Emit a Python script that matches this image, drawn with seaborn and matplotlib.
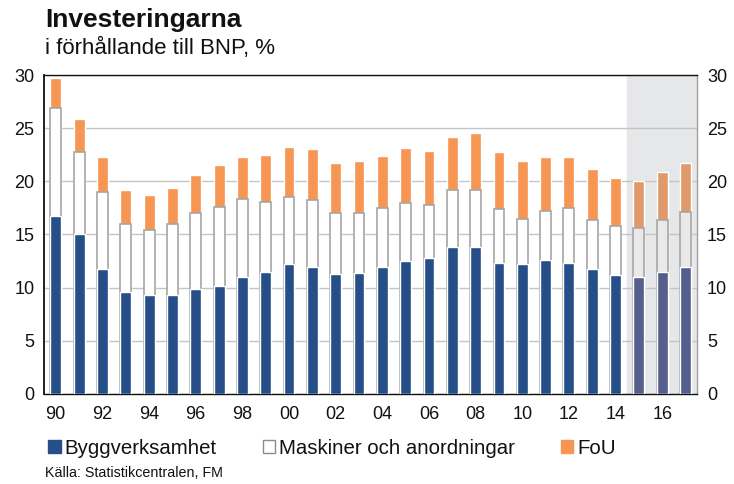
import numpy as np
import pandas as pd
import seaborn as sns
import matplotlib.pyplot as plt
from matplotlib.patches import Patch

# === Data (% of GDP) ===
years = list(range(1990, 2018))
bygg = [16.7, 15.0, 11.8, 9.6, 9.3, 9.3, 9.9, 10.2, 11.0, 11.5, 12.2, 11.9, 11.3, 11.4,
        11.9, 12.5, 12.8, 13.8, 13.8, 12.3, 12.2, 12.6, 12.3, 11.8, 11.2, 11.0, 11.5, 11.9]
maskiner = [10.2, 7.8, 7.2, 6.4, 6.1, 6.7, 7.1, 7.4, 7.3, 6.6, 6.3, 6.3, 5.7, 5.6,
            5.6, 5.5, 5.0, 5.4, 5.4, 5.1, 4.3, 4.6, 5.2, 4.6, 4.6, 4.6, 4.9, 5.2]
fou = [2.8, 3.1, 3.3, 3.2, 3.3, 3.4, 3.6, 3.9, 4.0, 4.4, 4.7, 4.8, 4.7, 4.9,
       4.9, 5.1, 5.1, 5.0, 5.3, 5.4, 5.4, 5.1, 4.8, 4.8, 4.5, 4.4, 4.5, 4.6]
forecast_from = 2015
labels = ["Byggverksamhet", "Maskiner och anordningar", "FoU"]

df = pd.DataFrame({"year": [str(y) for y in years], "bygg": bygg,
                   "maskiner": maskiner, "fou": fou})
df["mid"] = df["bygg"] + df["maskiner"]
df["total"] = df["mid"] + df["fou"]

# === Style ===
sns.set_theme(style="white")
plt.rcParams["font.family"] = ["Liberation Sans", "DejaVu Sans"]
plt.rcParams["text.color"] = "#111111"

blue, orange = "#264f8a", "#f79552"
blue_f, orange_f, white_f = "#545f8c", "#df996a", "#e9e9ea"

fig = plt.figure(figsize=(7.34, 4.84), dpi=100)
ax = fig.add_axes([0.06, 0.186, 0.89, 0.659])

# stacked bars: draw cumulative totals back to front
sns.barplot(data=df, x="year", y="total", color=orange, width=0.47, saturation=1,
            ax=ax, zorder=3)
sns.barplot(data=df, x="year", y="mid", color="white", width=0.47, saturation=1,
            edgecolor="#a6a6a6", linewidth=1.2, ax=ax, zorder=3)
sns.barplot(data=df, x="year", y="bygg", color=blue, width=0.47, saturation=1,
            ax=ax, zorder=3)

n = len(years)
k0 = years.index(forecast_from)
for i, p in enumerate(ax.patches):
    layer, idx = divmod(i, n)
    if idx >= k0:
        p.set_facecolor([orange_f, white_f, blue_f][layer])

# forecast period
ax.axvspan(k0 - 0.5, n - 0.5, color="#e6e7e8", zorder=0)

ax.set_xlim(-0.5, n - 0.5)
ax.set_ylim(0, 30)
ax.set_yticks(range(0, 31, 5))
ax.yaxis.grid(True, color="#c4c4c4", linewidth=1, zorder=1)
ax.set_axisbelow(True)
ax.set_xticks(range(0, n, 2))
ax.set_xticklabels([f"{y % 100:02d}" for y in years[::2]])
ax.set_xlabel("")
ax.set_ylabel("")
ax.tick_params(axis="x", labelsize=13, length=0, pad=9, colors="#111111")
ax.tick_params(axis="y", labelsize=13, length=0, pad=7, colors="#111111",
               labelright=True, right=False)

for side in ["left", "top", "bottom"]:
    ax.spines[side].set_color("#111111")
ax.spines["left"].set_linewidth(1.3)
ax.spines["top"].set_linewidth(1.0)
ax.spines["bottom"].set_linewidth(1.0)
ax.spines["right"].set_color("#a0a0a0")
ax.spines["right"].set_linewidth(1.0)

# === Titles ===
fig.text(0.061, 0.958, "Investeringarna", fontsize=19, fontweight="bold", va="center")
fig.text(0.061, 0.9, "i förhållande till BNP, %", fontsize=16, va="center")
fig.text(0.061, 0.022, "Källa: Statistikcentralen, FM", fontsize=10.3, va="center")

# === Legend ===
handles = [Patch(facecolor=blue, edgecolor=blue),
           Patch(facecolor="white", edgecolor="#8c8c8c"),
           Patch(facecolor=orange, edgecolor=orange)]
fig.legend(handles, labels, loc="center left", bbox_to_anchor=(0.066, 0.074),
           ncol=3, frameon=False, fontsize=14.7, handlelength=0.6, handleheight=0.6,
           handletextpad=0.2, columnspacing=2.25, borderaxespad=0, borderpad=0)

plt.savefig("out.png", dpi=100)
